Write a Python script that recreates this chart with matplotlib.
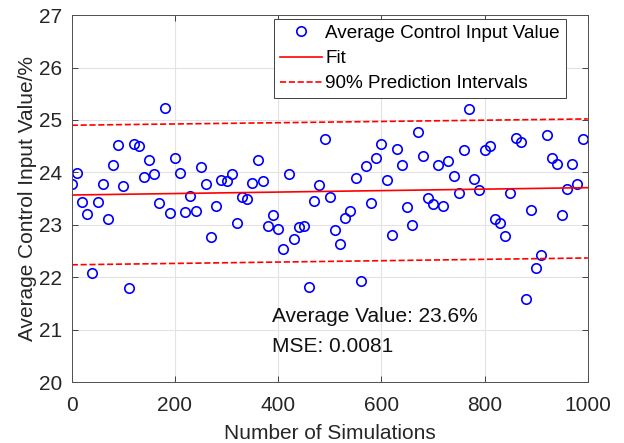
import matplotlib
matplotlib.use("Agg")
import matplotlib.pyplot as plt
import numpy as np

plt.rcParams['font.family'] = ['Liberation Sans', 'DejaVu Sans']

# one sample every 10 simulations
sims = np.arange(0, 1000, 10)
avg_input = [
    23.78, 23.99, 23.44, 23.20, 22.09, 23.44, 23.78, 23.11, 24.14, 24.52,
    23.74, 21.80, 24.54, 24.50, 23.91, 24.24, 23.97, 23.41, 25.22, 23.23,
    24.28, 23.99, 23.24, 23.55, 23.26, 24.11, 23.78, 22.77, 23.36, 23.86,
    23.84, 23.98, 23.04, 23.53, 23.49, 23.79, 24.24, 23.84, 22.98, 23.18,
    22.93, 22.55, 23.98, 22.73, 22.96, 22.98, 21.81, 23.46, 23.76, 24.64,
    23.53, 22.91, 22.63, 23.13, 23.26, 23.89, 21.94, 24.12, 23.42, 24.28,
    24.54, 23.86, 22.80, 24.44, 24.14, 23.35, 23.00, 24.77, 24.32, 23.52,
    23.39, 24.15, 23.36, 24.22, 23.93, 23.60, 24.42, 25.20, 23.88, 23.66,
    24.43, 24.50, 23.11, 23.04, 22.78, 23.61, 24.66, 24.58, 21.59, 23.29,
    22.17, 22.43, 24.71, 24.28, 24.16, 23.18, 23.68, 24.16, 23.78, 24.63,
]

# fitted line and 90% prediction bounds at the two ends of the range
fit_x = [0, 1000]
fit_y = [23.57, 23.71]
pi_upper = [24.90, 25.02]
pi_lower = [22.24, 22.37]

avg_text = "Average Value: 23.6%"
mse_text = "MSE: 0.0081"

fig = plt.figure(figsize=(6.24, 4.43), dpi=100)
ax = fig.add_axes([0.115, 0.137, 0.827, 0.829])

ax.plot(sims, avg_input, 'o', mfc='none', mec='#0000ff', ms=6.8, mew=1.2,
        label='Average Control Input Value')
ax.plot(fit_x, fit_y, '-', color='#ff0000', lw=1.2, label='Fit')
ax.plot(fit_x, pi_upper, '--', color='#ff0000', lw=1.2,
        label='90% Prediction Intervals')
ax.plot(fit_x, pi_lower, '--', color='#ff0000', lw=1.2)

ax.set_xlim(0, 1000)
ax.set_ylim(20, 27)
ax.set_xticks(np.arange(0, 1001, 200))
ax.set_yticks(np.arange(20, 28, 1))
ax.grid(True, color='#e3e3e3', lw=0.8)
ax.set_axisbelow(True)
ax.tick_params(direction='in', top=True, right=True, labelsize=15,
               colors='#262626', length=4, width=0.6)
ax.tick_params(axis='x', pad=10)
ax.tick_params(axis='y', pad=7)
for sp in ax.spines.values():
    sp.set_color('#505050')
    sp.set_linewidth(0.7)

ax.set_xlabel('Number of Simulations', fontsize=15, color='#262626', labelpad=6)
ax.set_ylabel('Average Control Input Value/%', fontsize=15, color='#262626', labelpad=1)

ax.text(388, 21.15, avg_text, fontsize=15, color='#111111', ha='left', va='baseline')
ax.text(388, 20.58, mse_text, fontsize=15, color='#111111', ha='left', va='baseline')

leg = ax.legend(loc='upper right', bbox_to_anchor=(0.957, 0.989), fontsize=13.6,
                fancybox=False, framealpha=1, edgecolor='#404040',
                borderaxespad=0, handlelength=2.2, labelspacing=0.42,
                borderpad=0.3, handletextpad=0.2)
leg.get_frame().set_linewidth(0.7)

fig.savefig('out.png', dpi=100)
